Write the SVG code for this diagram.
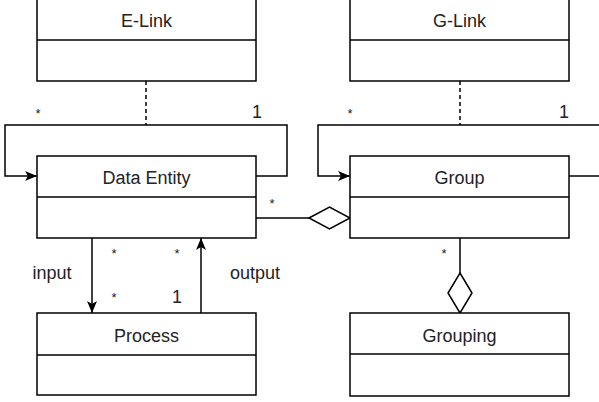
<svg xmlns="http://www.w3.org/2000/svg" width="599" height="402" viewBox="0 0 599 402">
<style>
.box{fill:#fff;stroke:#000;stroke-width:1.5}
.ln{fill:none;stroke:#000;stroke-width:1.5}
.dash{fill:none;stroke:#000;stroke-width:1.5;stroke-dasharray:4 3}
.dia{fill:#fff;stroke:#000;stroke-width:1.5}
text{font-family:"Liberation Sans",Arial,sans-serif;font-size:18px;fill:#222}
.c{text-anchor:middle}
.s{font-size:13px}
</style>
<defs>
<marker id="arr" viewBox="0 0 12 10" refX="12" refY="5" markerWidth="12" markerHeight="10" markerUnits="userSpaceOnUse" orient="auto">
<path d="M0,0 L12,5 L0,10 L3,5 z" fill="#000"/>
</marker>
</defs>
<rect width="599" height="402" fill="#fff"/>
<g id="connectors">
<path class="dash" d="M146,81 V125"/>
<path class="dash" d="M460,81 V125"/>
<path class="ln" d="M256,176 H287 V125 H5 V176 H37" marker-end="url(#arr)"/>
<path class="ln" d="M569,176 H620 V125 H318 V176 H350" marker-end="url(#arr)"/>
<path class="ln" d="M256,218 H309"/>
<path class="dia" d="M309,218 L329.5,207 L350,218 L329.5,229 Z"/>
<path class="ln" d="M460,238 V273"/>
<path class="dia" d="M460,273 L472,293 L460,313 L448,293 Z"/>
<path class="ln" d="M92,238 V313" marker-end="url(#arr)"/>
<path class="ln" d="M201,313 V238" marker-end="url(#arr)"/>
<text x="38" y="118" class="c s">*</text>
<text x="257" y="118" class="c">1</text>
<text x="272" y="208" class="c s">*</text>
<text x="350" y="118" class="c s">*</text>
<text x="564" y="118" class="c">1</text>
<text x="444" y="258" class="c s">*</text>
<text x="114" y="258" class="c s">*</text>
<text x="177" y="258" class="c s">*</text>
<text x="114" y="302" class="c s">*</text>
<text x="177" y="303" class="c">1</text>
<text x="52" y="279" class="c">input</text>
<text x="255" y="279" class="c">output</text>
</g>
<g id="elink">
<rect class="box" x="37" y="-1" width="219" height="82"/>
<path class="ln" d="M37,40 H256"/>
<text x="146.5" y="27" class="c">E-Link</text>
</g>
<g id="glink">
<rect class="box" x="350" y="-1" width="219" height="82"/>
<path class="ln" d="M350,40 H569"/>
<text x="459.5" y="27" class="c">G-Link</text>
</g>
<g id="dataentity">
<rect class="box" x="37" y="156" width="219" height="82"/>
<path class="ln" d="M37,197 H256"/>
<text x="146.5" y="184" class="c">Data Entity</text>
</g>
<g id="group">
<rect class="box" x="350" y="156" width="219" height="82"/>
<path class="ln" d="M350,197 H569"/>
<text x="459.5" y="184" class="c">Group</text>
</g>
<g id="process">
<rect class="box" x="37" y="313" width="219" height="82"/>
<path class="ln" d="M37,355 H256"/>
<text x="146.5" y="342" class="c">Process</text>
</g>
<g id="grouping">
<rect class="box" x="350" y="313" width="219" height="83"/>
<path class="ln" d="M350,354 H569"/>
<text x="459.5" y="342" class="c">Grouping</text>
</g>
</svg>
